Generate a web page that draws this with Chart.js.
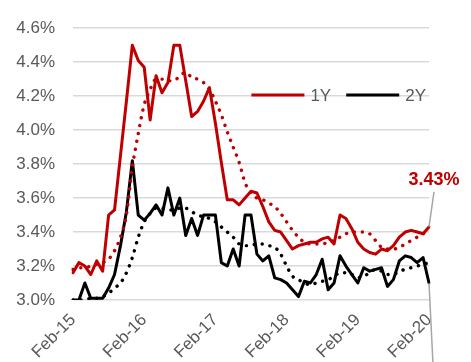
<!DOCTYPE html>
<html>
<head>
<meta charset="utf-8">
<script src="https://cdn.jsdelivr.net/npm/chart.js@4.4.1/dist/chart.umd.min.js"></script>
<style>
  html, body { margin: 0; padding: 0; background: #fff; }
  #wrap { width: 471px; height: 362px; }
</style>
</head>
<body>
<div id="wrap"><canvas id="rates"></canvas></div>
<script>
// monthly, Feb-15 .. Feb-20
const months = ["Jan", "Feb", "Mar", "Apr", "May", "Jun", "Jul", "Aug", "Sep", "Oct", "Nov", "Dec"];
const labels = [];
for (let n = 1; n <= 61; n++) {
    labels.push(months[n % 12] + "-" + (15 + Math.floor(n / 12)));
}

const oneYear = [
    3.16, 3.22, 3.20, 3.15, 3.23, 3.17, 3.50, 3.53, 3.85, 4.17,
    4.50, 4.41, 4.37, 4.06, 4.32, 4.22, 4.28, 4.50, 4.50, 4.29,
    4.08, 4.11, 4.17, 4.25, 4.04, 3.81, 3.59, 3.59, 3.56, 3.60,
    3.64, 3.63, 3.55, 3.46, 3.41, 3.40, 3.35, 3.30, 3.32, 3.33,
    3.34, 3.34, 3.36, 3.37, 3.33, 3.50, 3.48, 3.42, 3.34, 3.30,
    3.28, 3.27, 3.30, 3.29, 3.32, 3.37, 3.40, 3.41, 3.40, 3.39,
    3.43
];
const twoYear = [
    3.00, 3.00, 3.10, 3.01, 3.01, 3.01, 3.07, 3.15, 3.32, 3.52,
    3.82, 3.50, 3.47, 3.51, 3.56, 3.50, 3.66, 3.50, 3.60, 3.38,
    3.48, 3.38, 3.50, 3.50, 3.50, 3.22, 3.20, 3.30, 3.20, 3.50,
    3.50, 3.27, 3.23, 3.26, 3.13, 3.12, 3.10, 3.06, 3.02, 3.11,
    3.10, 3.15, 3.24, 3.06, 3.10, 3.26, 3.20, 3.15, 3.10, 3.19,
    3.17, 3.18, 3.19, 3.08, 3.12, 3.23, 3.26, 3.25, 3.22, 3.25,
    3.10
];
// trend lines
const oneYearTrend = [
    3.18, 3.19, 3.19, 3.20, 3.21, 3.22, 3.24, 3.29, 3.37, 3.50,
    3.78, 3.98, 4.15, 4.24, 4.30, 4.30, 4.29, 4.29, 4.32, 4.34,
    4.31, 4.30, 4.28, 4.24, 4.17, 4.09, 3.99, 3.90, 3.81, 3.69,
    3.63, 3.60, 3.59, 3.57, 3.55, 3.51, 3.46, 3.41, 3.37, 3.34,
    3.33, 3.33, 3.33, 3.34, 3.35, 3.37, 3.39, 3.40, 3.40, 3.40,
    3.39, 3.35, 3.31, 3.30, 3.30, 3.31, 3.33, 3.35, 3.37, 3.39,
    3.41
];
const twoYearTrend = [
    3.00, 3.00, 3.00, 3.01, 3.01, 3.02, 3.04, 3.07, 3.10, 3.16,
    3.25, 3.37, 3.46, 3.51, 3.54, 3.54, 3.53, 3.53, 3.54, 3.54,
    3.52, 3.50, 3.49, 3.48, 3.46, 3.43, 3.40, 3.37, 3.33, 3.32,
    3.32, 3.33, 3.33, 3.32, 3.31, 3.27, 3.20, 3.14, 3.12, 3.10,
    3.09, 3.10, 3.11, 3.12, 3.14, 3.16, 3.16, 3.15, 3.13, 3.14,
    3.16, 3.18, 3.17, 3.15, 3.15, 3.17, 3.18, 3.19, 3.20, 3.21,
    3.22
];

const RED = "#c00000";
const BLACK = "#000000";
const GREY_TEXT = "#595959";
const FONT = "'Liberation Sans', Arial, sans-serif";

function solid(label, data, color, order) {
    return {
        label: label, data: data, order: order,
        borderColor: color, backgroundColor: color,
        borderWidth: 3, pointRadius: 0, tension: 0,
        borderJoinStyle: "round", borderCapStyle: "round"
    };
}
function dotted(label, data, color, order) {
    return {
        label: label, data: data, order: order,
        borderColor: color, backgroundColor: color,
        borderWidth: 3.4, pointRadius: 0,
        cubicInterpolationMode: "monotone",
        borderDash: [0.1, 7.9], borderCapStyle: "round"
    };
}

// legend inside the plot: line swatch + name, right aligned
const lineLegend = {
    id: "lineLegend",
    afterDraw(chart) {
        const ctx = chart.ctx;
        const items = chart.data.datasets.filter(ds => !ds.label.includes("trend"));
        const swatch = 53, gap = 6, spacing = 15, yMid = 95;
        ctx.save();
        ctx.font = "17px " + FONT;
        ctx.textBaseline = "middle";
        let right = 426;
        for (let i = items.length - 1; i >= 0; i--) {
            const ds = items[i];
            const tw = ctx.measureText(ds.label).width;
            const textX = right - tw;
            const lineEnd = textX - gap;
            ctx.strokeStyle = ds.borderColor;
            ctx.lineWidth = 3;
            ctx.beginPath();
            ctx.moveTo(lineEnd - swatch, yMid);
            ctx.lineTo(lineEnd, yMid);
            ctx.stroke();
            ctx.fillStyle = GREY_TEXT;
            ctx.fillText(ds.label, textX, yMid + 1);
            right = lineEnd - swatch - spacing;
        }
        ctx.restore();
    }
};

// value callout for the last 1Y point + leader lines
const endNotes = {
    id: "endNotes",
    afterDatasetsDraw(chart) {
        const ctx = chart.ctx;
        const x = chart.scales.x, y = chart.scales.y;
        const last = oneYear.length - 1;
        const px = x.getPixelForValue(last);
        const pyRed = y.getPixelForValue(oneYear[last]);
        const pyBlack = y.getPixelForValue(twoYear[last]);
        ctx.save();
        ctx.strokeStyle = "#a6a6a6";
        ctx.lineWidth = 1.5;
        ctx.beginPath();
        ctx.moveTo(px, pyRed);
        ctx.lineTo(px + 5, pyRed - 35);
        ctx.stroke();
        ctx.beginPath();
        ctx.moveTo(px, pyBlack);
        ctx.lineTo(px + 4, chart.height + 2);
        ctx.stroke();
        ctx.fillStyle = RED;
        ctx.font = "bold 18px " + FONT;
        ctx.textAlign = "center";
        ctx.textBaseline = "alphabetic";
        ctx.fillText(oneYear[last].toFixed(2) + "%", px + 5, pyRed - 42);
        ctx.restore();
    }
};

new Chart(document.getElementById("rates").getContext("2d"), {
    type: "line",
    data: {
        labels: labels,
        datasets: [
            solid("1Y", oneYear, RED, 0),
            solid("2Y", twoYear, BLACK, 2),
            dotted("1Y trend", oneYearTrend, RED, 1),
            dotted("2Y trend", twoYearTrend, BLACK, 3)
        ]
    },
    options: {
        responsive: true,
        maintainAspectRatio: false,
        animation: false,
        layout: { padding: { top: 20, right: 42, bottom: 0, left: 0 } },
        plugins: {
            tooltip: { enabled: false },
            legend: { display: false }
        },
        scales: {
            x: {
                grid: { display: false },
                border: { display: false },
                afterFit: scale => { scale.height = 62; },
                ticks: {
                    autoSkip: false,
                    minRotation: 45,
                    maxRotation: 45,
                    padding: 2,
                    color: GREY_TEXT,
                    font: { family: FONT, size: 17 },
                    callback: function (val) {
                        const lbl = this.getLabelForValue(val);
                        return lbl.startsWith("Feb") ? lbl : null;
                    }
                }
            },
            y: {
                min: 3.0,
                max: 4.6,
                afterFit: scale => { scale.width = 73; },
                grid: { color: "#d9d9d9", lineWidth: 1.5, drawTicks: false },
                border: { display: false },
                ticks: {
                    stepSize: 0.2,
                    padding: 18,
                    color: GREY_TEXT,
                    font: { family: FONT, size: 17 },
                    callback: v => v.toFixed(1) + "%"
                }
            }
        }
    },
    plugins: [lineLegend, endNotes]
});
</script>
</body>
</html>
